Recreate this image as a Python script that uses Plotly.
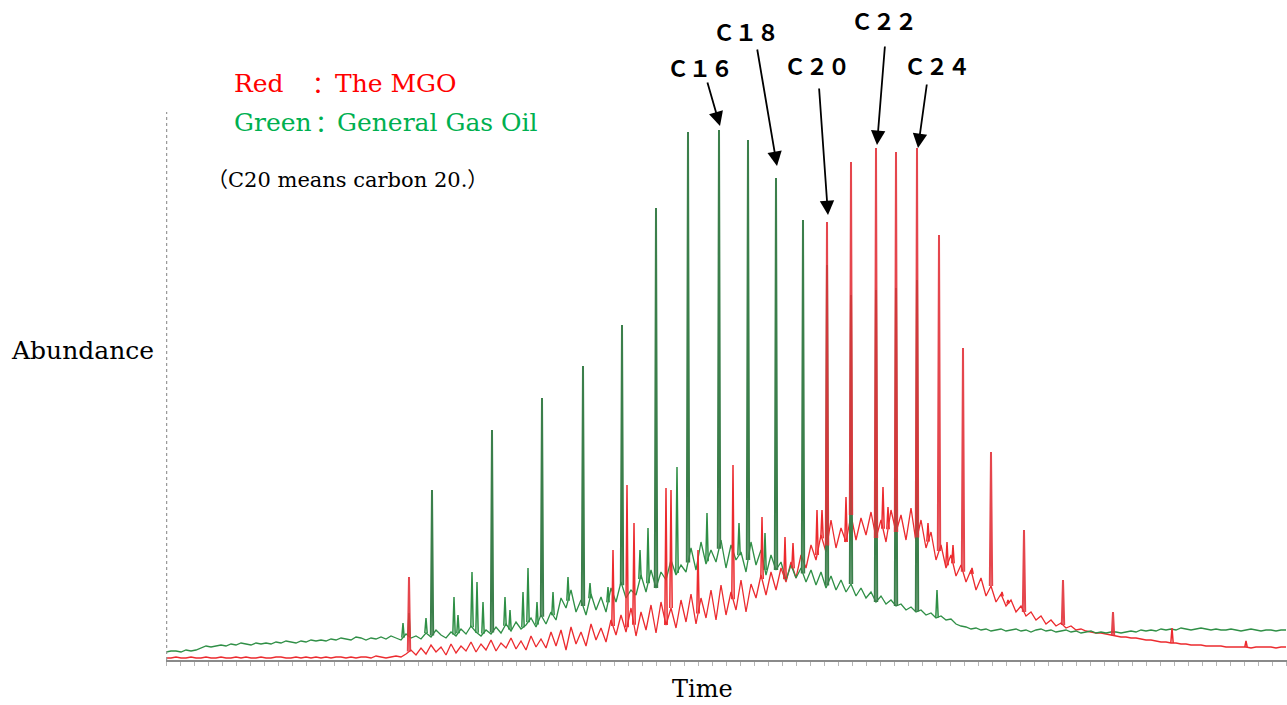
import numpy as np
import plotly.graph_objects as go

# ---------------- data (time in scan units, abundance in arbitrary units) ----------------
time_grid = np.arange(0, 1121, 5)

red_base = [
    2, 2, 3, 2, 2, 3, 2, 2, 3, 2,
    2, 3, 2, 2, 3, 2, 3, 2, 2, 3,
    2, 2, 3, 3, 2, 2, 3, 2, 3, 2,
    3, 2, 3, 2, 3, 3, 2, 3, 2, 3,
    3, 2, 4, 3, 2, 3, 4, 3, 6, 10,
    5, 12, 6, 15, 8, 13, 5, 16, 7, 14,
    9, 18, 8, 16, 10, 20, 9, 17, 12, 22,
    11, 19, 10, 24, 13, 21, 12, 28, 14, 30,
    10, 33, 16, 28, 14, 36, 20, 32, 18, 40,
    25, 45, 28, 52, 24, 48, 30, 55, 27, 58,
    35, 52, 32, 60, 38, 66, 36, 62, 42, 70,
    40, 75, 45, 68, 50, 80, 48, 76, 62, 85,
    65, 88, 70, 92, 78, 98, 82, 105, 92, 115,
    100, 125, 108, 140, 112, 132, 118, 145, 120, 142,
    125, 148, 122, 140, 118, 150, 128, 145, 120, 152,
    118, 140, 112, 128, 100, 115, 92, 105, 84, 95,
    78, 90, 70, 82, 64, 74, 58, 66, 54, 60,
    48, 54, 44, 48, 40, 44, 36, 40, 34, 37,
    32, 34, 30, 31, 29, 28, 27, 27, 26, 25,
    24, 23, 23, 22, 22, 21, 20, 20, 19, 18,
    18, 17, 17, 16, 16, 15, 15, 15, 14, 14,
    14, 14, 13, 13, 13, 13, 13, 12, 13, 13,
    13, 13, 12, 13, 13,
]

green_base = [
    8, 9, 9, 8, 10, 9, 10, 12, 14, 13,
    14, 15, 14, 16, 15, 17, 16, 15, 17, 16,
    17, 16, 18, 17, 19, 18, 17, 19, 18, 20,
    19, 20, 19, 21, 20, 22, 21, 20, 23, 22,
    20, 22, 21, 23, 21, 24, 22, 20, 26, 22,
    24, 21, 27, 23, 30, 25, 22, 28, 24, 31,
    26, 34, 28, 24, 30, 26, 33, 27, 36, 29,
    38, 31, 35, 42, 33, 45, 36, 48, 40, 62,
    52, 70, 48, 60, 45, 66, 50, 63, 48, 72,
    58, 78, 62, 70, 65, 85, 68, 90, 72, 88,
    80, 100, 85, 95, 88, 112, 90, 118, 96, 110,
    98, 120, 92, 115, 100, 108, 88, 118, 95, 110,
    85, 105, 90, 98, 80, 95, 82, 92, 78, 90,
    75, 88, 72, 84, 70, 80, 68, 76, 64, 72,
    62, 68, 58, 64, 56, 60, 54, 56, 50, 53,
    48, 50, 45, 47, 42, 44, 40, 41, 36, 34,
    33, 31, 32, 30, 31, 29, 30, 31, 29, 30,
    31, 29, 30, 28, 30, 31, 29, 30, 28, 29,
    30, 28, 29, 27, 28, 29, 27, 28, 27, 28,
    28, 27, 28, 29, 28, 30, 29, 30, 29, 31,
    30, 31, 30, 32, 31, 30, 31, 32, 31, 30,
    31, 30, 30, 31, 30, 29, 30, 31, 30, 29,
    30, 30, 29, 30, 30,
]

# n-alkane peaks
green_peak_t = [266, 326, 376, 417, 456, 490, 522, 553, 582, 610, 637, 661, 685, 710, 730, 751]
green_peak_h = [170, 230, 262, 294, 335, 452, 528, 530, 520, 482, 440, 395, 365, 370, 372, 380]

red_peak_t = [243, 661, 685, 710, 730, 751, 773, 797, 825, 858, 897, 947]
red_peak_h = [83, 438, 498, 512, 508, 512, 425, 312, 208, 130, 80, 48]

# minor peaks
green_minor_t = [237, 243, 260, 288, 292, 306, 311, 317, 339, 344, 357, 362, 371, 387,
                 402, 424, 442, 474, 482, 511, 541, 573, 599, 771]
green_minor_h = [37, 47, 42, 63, 45, 88, 78, 58, 63, 50, 68, 92, 58, 68,
                 83, 77, 73, 110, 132, 193, 147, 137, 127, 70]

red_minor_t = [447, 461, 468, 500, 505, 532, 567, 596, 619, 627, 651, 656, 680, 717,
               722, 762, 781, 787, 806, 836, 842, 1006, 1080]
red_minor_h = [110, 175, 137, 172, 170, 110, 195, 143, 123, 117, 150, 150, 163, 173,
               153, 137, 118, 115, 92, 68, 60, 32, 19]

carbon_labels = ["Ｃ１６", "Ｃ１８", "Ｃ２０", "Ｃ２２", "Ｃ２４"]
carbon_peak_t = [553, 610, 661, 710, 751]

# ---------------- build figure ----------------
RED = "#ec2b2f"
GREEN = "#2f8f46"
GREEN_SPIKE = "#3b7f4b"
RED_SPIKE = "#e3323a"


def spikes(times, heights, base):
    xs, ys = [], []
    for t, h in zip(times, heights):
        b = float(np.interp(t, time_grid, base))
        xs += [t - 1.2, t, t + 1.2, None]
        ys += [b, h, b, None]
    return xs, ys


fig = go.Figure()

fig.add_trace(go.Scatter(x=time_grid, y=red_base, mode="lines",
                         line=dict(color=RED, width=1.3), hoverinfo="skip", showlegend=False))
fig.add_trace(go.Scatter(x=time_grid, y=green_base, mode="lines",
                         line=dict(color=GREEN, width=1.3), hoverinfo="skip", showlegend=False))

gx, gy = spikes(green_minor_t, green_minor_h, green_base)
fig.add_trace(go.Scatter(x=gx, y=gy, mode="lines", line=dict(color=GREEN, width=1.5),
                         hoverinfo="skip", showlegend=False))
rx, ry = spikes(red_minor_t, red_minor_h, red_base)
fig.add_trace(go.Scatter(x=rx, y=ry, mode="lines", line=dict(color=RED, width=1.5),
                         hoverinfo="skip", showlegend=False))

gx, gy = spikes(green_peak_t, green_peak_h, green_base)
fig.add_trace(go.Scatter(x=gx, y=gy, mode="lines", line=dict(color=GREEN_SPIKE, width=2),
                         name="General Gas Oil", showlegend=False))
rx, ry = spikes(red_peak_t, red_peak_h, red_base)
fig.add_trace(go.Scatter(x=rx, y=ry, mode="lines", line=dict(color=RED_SPIKE, width=2),
                         opacity=0.9, name="The MGO", showlegend=False))

W, H = 1287, 705


def px(x):
    return x / W


def py(y):
    return 1 - y / H


annotations = []
serif = "DejaVu Serif, Liberation Serif, Noto Sans CJK JP, serif"
cjk = "Noto Sans CJK JP, sans-serif"


def txt(text, x, y, color, size, xanchor="left", family=serif):
    annotations.append(dict(text=text, x=px(x), y=py(y), xref="paper", yref="paper",
                            xanchor=xanchor, yanchor="middle", showarrow=False,
                            font=dict(family=family, size=size, color=color)))


txt("Red", 232, 83, "#ff0000", 25)
txt("：", 318, 83, "#ff0000", 24, "center", cjk)
txt("The MGO", 333, 83, "#ff0000", 25)
txt("Green", 232, 122, "#00b050", 25)
txt("：", 321, 122, "#00b050", 24, "center", cjk)
txt("General Gas Oil", 335, 122, "#00b050", 25)
txt("（C20 means carbon 20.）", 205, 180, "#000000", 21,
    family="DejaVu Serif, Noto Sans CJK JP, serif")
txt("Abundance", 82, 350, "#000000", 25, "center")
txt("Time", 702, 689, "#000000", 24, "center")

# carbon labels and arrows
label_pos = [(700, 67), (746, 31), (817, 65), (884, 20), (937, 65)]
arrow_tail = [(-13, -45), (-20, -118), (-9, -128), (8, -100), (9, -65)]
tip_gap = [4, 12, 7, 3, 0]
for lab, t, (lx, ly), (ax, ay), g in zip(carbon_labels, carbon_peak_t, label_pos, arrow_tail, tip_gap):
    txt("<b>%s</b>" % lab, lx, ly, "#000000", 22, "center", cjk)
    h_top = max([h for tt, h in zip(green_peak_t + red_peak_t, green_peak_h + red_peak_h) if tt == t])
    annotations.append(dict(x=t + 1, y=h_top + g, xref="x", yref="y", text="",
                            showarrow=True, ax=ax, ay=ay, axref="pixel", ayref="pixel",
                            arrowhead=2, arrowsize=1.6, arrowwidth=1.8,
                            arrowcolor="#000000", standoff=0))

fig.update_layout(
    width=W, height=H,
    margin=dict(l=0, r=0, t=0, b=0),
    paper_bgcolor="white", plot_bgcolor="white",
    annotations=annotations,
    xaxis=dict(domain=[166 / W, 1], range=[0, 1121], showgrid=False, zeroline=False,
               showline=True, linecolor="#8a8a8a", linewidth=1.5,
               ticks="outside", ticklen=4, tickcolor="#b5b5b5", dtick=14,
               showticklabels=False, fixedrange=True),
    yaxis=dict(domain=[45 / H, 593 / H], range=[0, 548], showgrid=False, zeroline=False,
               showline=False, showticklabels=False, ticks="", fixedrange=True),
    shapes=[dict(type="line", xref="x", yref="y", x0=0, x1=0, y0=0, y1=548,
                 line=dict(color="#9a9a9a", width=2.5, dash="dot"))],
)

fig.write_html("out.html", config={"displayModeBar": False},
               post_script="document.body.style.margin='0';document.body.style.overflow='hidden';")
